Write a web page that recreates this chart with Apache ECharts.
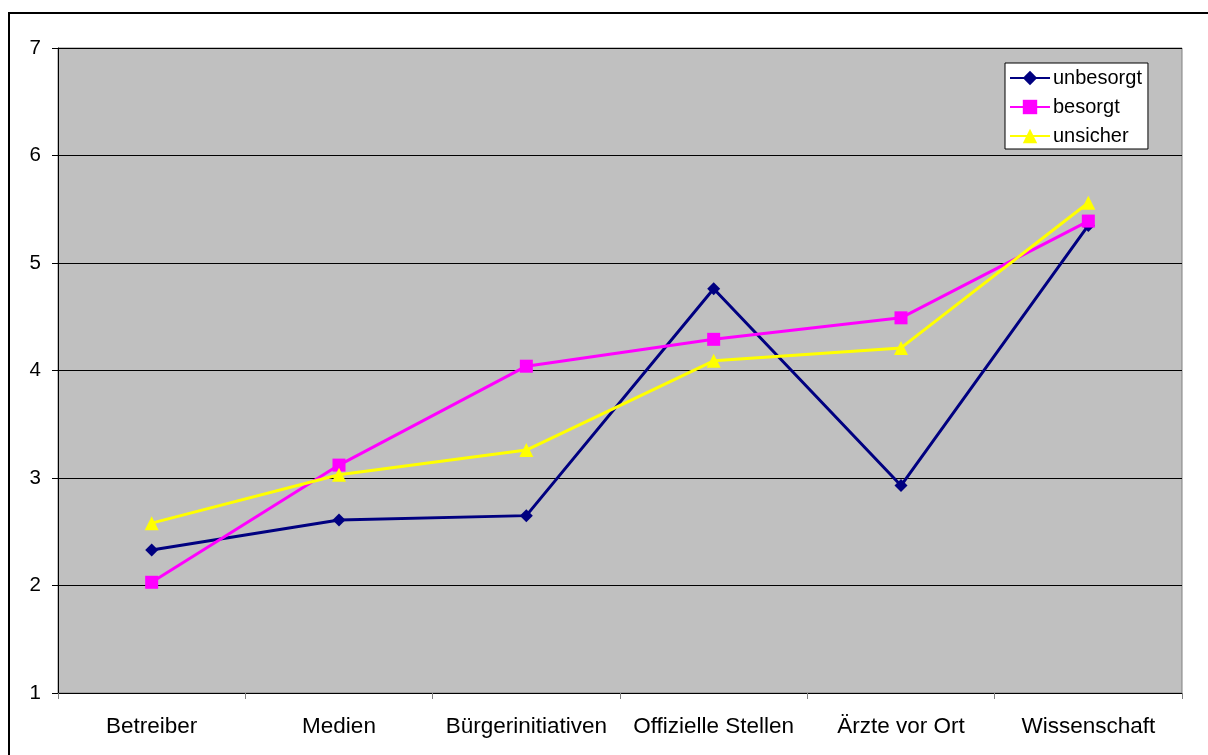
<!DOCTYPE html>
<html><head><meta charset="utf-8">
<script src="https://cdn.jsdelivr.net/npm/echarts@6/dist/echarts.min.js"></script>
<style>html,body{margin:0;padding:0;background:#fff}#c{width:1208px;height:755px}</style>
</head><body><div id="c"></div>
<script>
const categories = ['Betreiber','Medien','Bürgerinitiativen','Offizielle Stellen','Ärzte vor Ort','Wissenschaft'];
const unbesorgt = [2.33, 2.61, 2.65, 4.76, 2.93, 5.35];
const besorgt   = [2.03, 3.12, 4.04, 4.29, 4.49, 5.39];
const unsicher  = [2.58, 3.03, 3.26, 4.09, 4.21, 5.56];
const seriesNames = ['unbesorgt','besorgt','unsicher'];

const chart = echarts.init(document.getElementById('c'), null, {renderer:'canvas'});
const font = 'Arial, "Liberation Sans", sans-serif';
function mk(name, data, color, symbol, size){
  return {name, type:'line', data, symbol, symbolSize:size, showSymbol:true,
    lineStyle:{color, width:3}, itemStyle:{color, borderWidth:0}, emphasis:{disabled:true}, animation:false};
}
chart.setOption({
  animation:false,
  graphic:[{type:'rect', shape:{x:9, y:13, width:1220, height:760}, style:{fill:'none', stroke:'#000', lineWidth:2}, silent:true}],
  grid:{left:58, top:48, right:26, bottom:62, show:true, backgroundColor:'#c0c0c0', borderColor:'#808080', borderWidth:1},
  legend:{orient:'vertical', left:1005, top:63, backgroundColor:'#fff', borderColor:'#000', borderWidth:1,
    padding:[5,6,3,4], itemGap:9, itemWidth:40, itemHeight:18,
    textStyle:{fontFamily:font, fontSize:20, color:'#000', padding:[0,0,0,-2]}, data:seriesNames},
  xAxis:{type:'category', data:categories, boundaryGap:true,
    axisLine:{lineStyle:{color:'#000', width:1}},
    axisTick:{show:true, inside:false, length:6, interval:0, lineStyle:{color:'#808080'}},
    axisLabel:{fontFamily:font, fontSize:22.5, color:'#000', margin:22, interval:0}, splitLine:{show:false}},
  yAxis:{type:'value', min:1, max:7, interval:1,
    axisLine:{show:true, lineStyle:{color:'#000', width:1}},
    axisTick:{show:true, length:6, lineStyle:{color:'#000'}},
    axisLabel:{fontFamily:font, fontSize:20.5, color:'#000', margin:17},
    splitLine:{show:true, lineStyle:{color:'#000', width:1}}},
  series:[
    mk('unbesorgt', unbesorgt, '#000080', 'diamond', 13),
    mk('besorgt', besorgt, '#ff00ff', 'rect', 13),
    mk('unsicher', unsicher, '#ffff00', 'triangle', 14)
  ]
});
</script></body></html>
